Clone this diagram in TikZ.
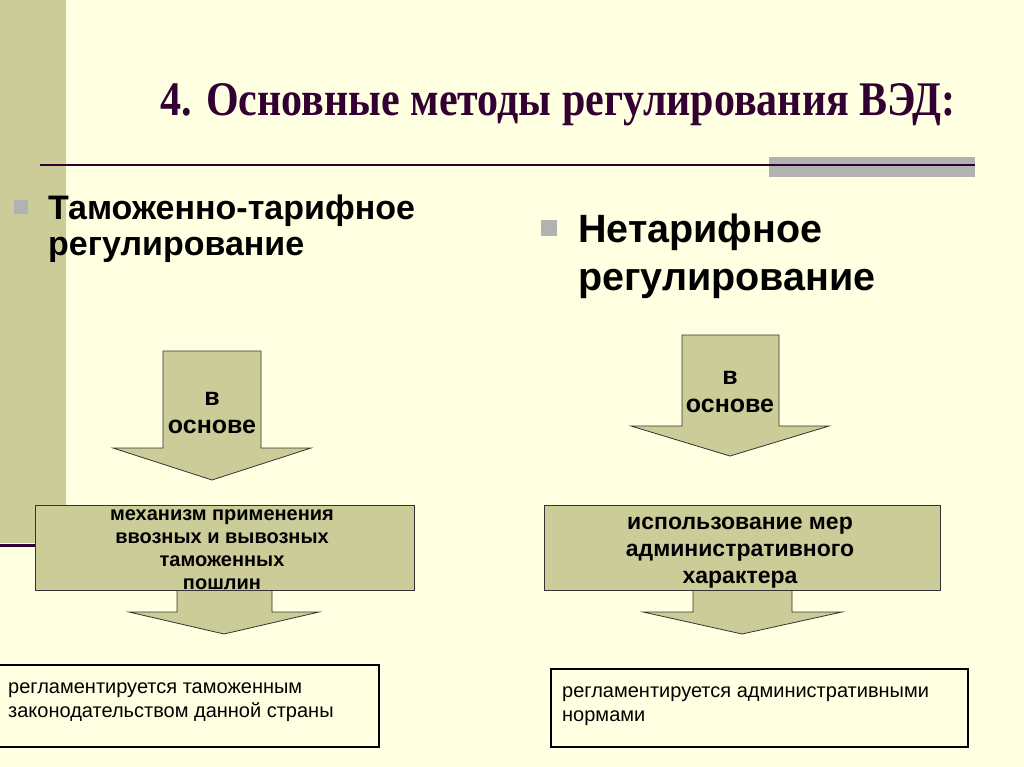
\documentclass[tikz,border=0pt]{standalone}
\usepackage{fontspec}
\setmainfont{Liberation Serif}
\setsansfont{Liberation Sans}
\definecolor{bgc}{RGB}{255,255,225}
\definecolor{olive}{RGB}{204,204,153}
\definecolor{plum}{RGB}{51,0,51}
\definecolor{barg}{RGB}{178,178,178}
\tikzset{
  fillshape/.style={fill=olive,draw=black!80,line width=0.8pt},
  boxtext/.style={font=\sffamily\bfseries\fontsize{20}{23}\selectfont,align=center,inner sep=0pt},
  arrowtext/.style={font=\sffamily\bfseries\fontsize{25}{28}\selectfont,align=center,inner sep=0pt},
  normbox/.style={draw=black,line width=2.6pt,fill=bgc},
  normtext/.style={font=\sffamily\fontsize{20}{24}\selectfont,inner sep=0pt,anchor=base west},
  headl/.style={font=\sffamily\bfseries\fontsize{34}{36}\selectfont,inner sep=0pt,anchor=base west},
  headr/.style={font=\sffamily\bfseries\fontsize{39.5}{47}\selectfont,inner sep=0pt,anchor=base west},
  bulletsq/.style={fill=barg,draw=none}
}
\begin{document}
\begin{tikzpicture}[x=1pt,y=-1pt]
\useasboundingbox (0,0) rectangle (1024,767);
\fill[bgc] (0,0) rectangle (1024,767);
% left band
\fill[olive] (0,0) rectangle (66,543);
\draw[plum,line width=3pt] (0,545) -- (40,545);
% title
\node[font=\bfseries\fontsize{42}{42}\selectfont,text=plum,inner sep=0pt,yscale=1.15,anchor=base] (title) at (558,116) {4. Основные методы регулирования ВЭД:};
% rule and grey bar
\fill[barg] (769,157) rectangle (975,177);
\draw[plum,line width=2.5pt] (40,165) -- (975,165);
% bullets
\fill[bulletsq] (14,200) rectangle (28,214);
\node[headl] (h1a) at (48,220) {Таможенно-тарифное};
\node[headl] (h1b) at (48,255) {регулирование};
\fill[bulletsq] (541,220) rectangle (557,236);
\node[headr] (h2a) at (578,242) {Нетарифное};
\node[headr] (h2b) at (578,290) {регулирование};
% left upper arrow
\draw[fillshape] (163,351) -- (261,351) -- (261,448) -- (311,448) -- (212,480) -- (113,448) -- (163,448) -- cycle;
\node[arrowtext] (a1) at (212,413) {в\\основе};
% left lower arrow
\draw[fillshape] (177,585) -- (272,585) -- (272,612) -- (319,612) -- (224,634) -- (129,612) -- (177,612) -- cycle;
% left box
\draw[fillshape] (35,505) rectangle (414,590);
\node[boxtext] (b1) at (222,550) {механизм применения\\ввозных и вывозных\\таможенных\\пошлин};
% right upper arrow
\draw[fillshape] (682,335) -- (779,335) -- (779,426) -- (829,426) -- (730,456) -- (631,426) -- (682,426) -- cycle;
\node[arrowtext] (a2) at (730,392) {в\\основе};
% right lower arrow
\draw[fillshape] (693,585) -- (792,585) -- (792,612) -- (842,612) -- (742,634) -- (643,612) -- (693,612) -- cycle;
% right box
\draw[fillshape] (544,505) rectangle (940,590);
\node[boxtext,font=\sffamily\bfseries\fontsize{23}{27}\selectfont] (b2) at (740,553) {использование мер\\административного\\характера};
% bottom boxes
\draw[normbox] (-2,665) rectangle (379,747);
\node[normtext] (n1a) at (8,693) {регламентируется таможенным};
\node[normtext] (n1b) at (8,717) {законодательством данной страны};
\draw[normbox] (551,669) rectangle (968,747);
\node[normtext] (n2a) at (562,697) {регламентируется административными};
\node[normtext] (n2b) at (562,721) {нормами};
\end{tikzpicture}
\end{document}
